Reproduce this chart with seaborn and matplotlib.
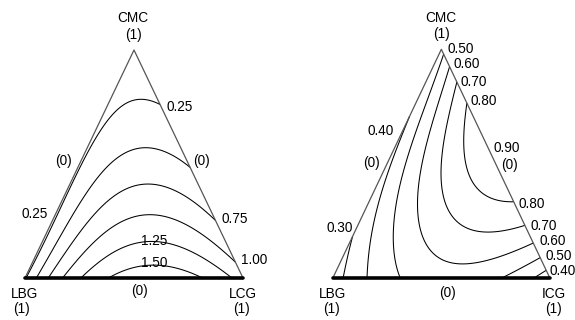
import numpy as np
import matplotlib
matplotlib.use("Agg")
import matplotlib.pyplot as plt
import matplotlib.tri as mtri
import seaborn as sns

sns.set_theme(style="white")
plt.rcParams['font.family'] = ['Liberation Sans', 'DejaVu Sans']

# ---------------- data ----------------
# left panel: LBG / LCG / CMC ; points = (LCG fraction, CMC fraction, response)
left_lcg = [0.0, 0.046, 0.105, 0.174, 0.261, 0.376, 0.60, 0.835, 0.94, 1.0,
            0.921, 0.732, 0.518, 0.232, 0.0,
            0.0, 0.0, 0.0,
            0.155, 0.012, 0.011,
            0.08, 0.117, 0.29,
            0.172, 0.251, 0.371, 0.712,
            0.338, 0.432, 0.781,
            0.309, 0.495, 0.81,
            0.539]
left_cmc = [0.0, 0.0, 0.0, 0.0, 0.0, 0.0, 0.0, 0.0, 0.0, 0.0,
            0.079, 0.268, 0.482, 0.768, 1.0,
            0.3, 0.6, 0.85,
            0.781, 0.605, 0.487,
            0.254, 0.487, 0.561,
            0.254, 0.373, 0.408, 0.276,
            0.263, 0.285, 0.136,
            0.07, 0.158, 0.079,
            0.07]
left_val = [0.2, 0.5, 0.75, 1.0, 1.25, 1.5, 1.62, 1.5, 1.25, 1.12,
            1.0, 0.75, 0.5, 0.25, 0.12,
            0.22, 0.2, 0.17,
            0.25, 0.25, 0.25,
            0.5, 0.5, 0.5,
            0.75, 0.75, 0.75, 0.75,
            1.0, 1.0, 1.0,
            1.25, 1.25, 1.25,
            1.5]
left_levels = [0.25, 0.50, 0.75, 1.00, 1.25, 1.50]

# right panel: LBG / ICG / CMC ; points = (ICG fraction, CMC fraction, response)
right_icg = [0.0, 0.049, 0.159, 0.31, 0.55, 0.778, 0.939, 1.0,
             0.955, 0.898, 0.846, 0.785, 0.68, 0.45, 0.25, 0.147, 0.06, 0.01, 0.0,
             0.0, 0.0, 0.0,
             0.017,
             0.1, 0.046, 0.015,
             0.238, 0.129, 0.074, 0.033,
             0.408, 0.594, 0.37, 0.235, 0.156, 0.102,
             0.244, 0.322, 0.419, 0.592, 0.18,
             0.354, 0.416, 0.545, 0.275]
right_cmc = [0.0, 0.0, 0.0, 0.0, 0.0, 0.0, 0.0, 0.0,
             0.045, 0.102, 0.154, 0.215, 0.32, 0.55, 0.75, 0.853, 0.94, 0.99, 1.0,
             0.167, 0.56, 0.8,
             0.124,
             0.124, 0.342, 0.7,
             0.124, 0.342, 0.517, 0.778,
             0.08, 0.102, 0.124, 0.342, 0.517, 0.735,
             0.517, 0.342, 0.268, 0.198, 0.735,
             0.517, 0.429, 0.356, 0.648]
right_val = [0.25, 0.3, 0.4, 0.5, 0.56, 0.5, 0.4, 0.34,
             0.4, 0.5, 0.6, 0.7, 0.8, 0.88, 0.8, 0.7, 0.6, 0.5, 0.42,
             0.3, 0.39, 0.4,
             0.3,
             0.4, 0.4, 0.4,
             0.5, 0.5, 0.5, 0.5,
             0.6, 0.6, 0.6, 0.6, 0.6, 0.6,
             0.7, 0.7, 0.7, 0.7, 0.7,
             0.8, 0.8, 0.8, 0.8]
right_levels = [0.30, 0.40, 0.50, 0.60, 0.70, 0.80]

# ---------------- Scheffe quartic mixture model ----------------
def basis(b, c):
    b = np.asarray(b, float); c = np.asarray(c, float)
    a = 1 - b - c
    return np.column_stack([a, b, c, a*b, a*c, b*c,
                            a*b*(a-b), a*c*(a-c), b*c*(b-c),
                            a*b*(a-b)**2, a*c*(a-c)**2, b*c*(b-c)**2,
                            a*a*b*c, a*b*b*c, a*b*c*c])

def fit(b, c, v, lam=2e-4):
    X = basis(b, c)
    y = np.asarray(v, float)
    n = X.shape[1]
    R = np.sqrt(lam) * np.eye(n)
    R[:3, :3] = 0
    A = np.vstack([X, R])
    yy = np.concatenate([y, np.zeros(n)])
    return np.linalg.lstsq(A, yy, rcond=None)[0]

N = 160
ii, jj = np.meshgrid(np.arange(N + 1), np.arange(N + 1))
m = ii + jj <= N
gb = ii[m] / N
gc = jj[m] / N
gx = gb + 0.5 * gc
gy = gc
tri = mtri.Triangulation(gx, gy)

fig = plt.figure(figsize=(5.75, 3.2), dpi=100)
W, H = 575.0, 320.0
axL = fig.add_axes([25 / W, 42 / H, 218 / W, 228 / H])
axR = fig.add_axes([332.7 / W, 41.7 / H, 217.3 / W, 229 / H])

def panel(ax, b, c, v, levels):
    coef = fit(b, c, v)
    z = basis(gb, gc) @ coef
    ax.tricontour(tri, z, levels=levels, colors='black', linewidths=0.75)
    sns.lineplot(x=[0, 0.5, 1], y=[0, 1, 0], sort=False, color='#555555',
                 linewidth=0.9, ax=ax, estimator=None)
    sns.lineplot(x=[0, 1], y=[0, 0], sort=False, color='black',
                 linewidth=2.6, ax=ax, estimator=None)
    ax.set_xlim(0, 1)
    ax.set_ylim(0, 1)
    ax.axis('off')
    for ln in ax.lines:
        ln.set_clip_on(False)

panel(axL, left_lcg, left_cmc, left_val, left_levels)
panel(axR, right_icg, right_cmc, right_val, right_levels)

def t(x, y, s):
    fig.text(x / W, 1 - y / H, s, ha='center', va='center', fontsize=9.8, color='black')

# left panel labels
t(133, 18, 'CMC'); t(133, 35, '(1)')
t(24, 294, 'LBG'); t(22, 309, '(1)')
t(243, 294, 'LCG'); t(241, 309, '(1)')
t(139, 291, '(0)'); t(63, 161, '(0)'); t(202, 161, '(0)')
t(180, 107, '0.25'); t(35, 214, '0.25'); t(235, 219, '0.75'); t(254, 260, '1.00')
t(154, 241, '1.25'); t(154, 263, '1.50')

# right panel labels
t(441, 18, 'CMC'); t(441, 34, '(1)')
t(333, 294, 'LBG'); t(331, 309, '(1)')
t(554, 294, 'ICG'); t(553, 309, '(1)')
t(448, 293, '(0)'); t(372, 163, '(0)'); t(510, 165, '(0)')
t(461, 49, '0.50'); t(467, 64, '0.60'); t(474, 82, '0.70'); t(484, 101, '0.80')
t(507, 148, '0.90')
t(532, 204, '0.80'); t(544, 226, '0.70'); t(553, 241, '0.60'); t(559, 256, '0.50'); t(563, 271, '0.40')
t(381, 131, '0.40'); t(340, 228, '0.30')

fig.savefig('out.png', dpi=100, facecolor='white')
